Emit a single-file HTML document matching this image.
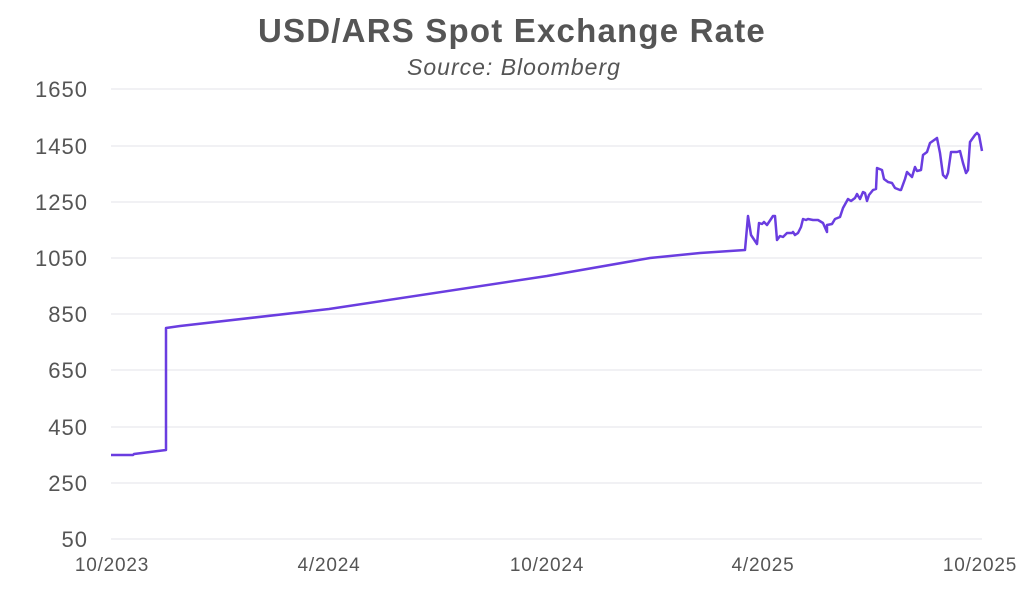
<!DOCTYPE html>
<html><head><meta charset="utf-8"><style>
body{margin:0;background:#fff;}
svg{display:block;font-family:"Liberation Sans",sans-serif;}
</style></head><body>
<svg width="1024" height="601" viewBox="0 0 1024 601">
<text x="512" y="42" text-anchor="middle" font-size="33" font-weight="bold" fill="#555" letter-spacing="1.2">USD/ARS Spot Exchange Rate</text>
<text x="514" y="75" text-anchor="middle" font-size="23" font-style="italic" fill="#555" letter-spacing="1">Source: Bloomberg</text>
<g stroke="#e3e3e8" stroke-width="1">
<line x1="111" x2="982" y1="89" y2="89"/><line x1="111" x2="982" y1="146" y2="146"/>
<line x1="111" x2="982" y1="202" y2="202"/><line x1="111" x2="982" y1="258" y2="258"/>
<line x1="111" x2="982" y1="314" y2="314"/><line x1="111" x2="982" y1="370" y2="370"/>
<line x1="111" x2="982" y1="427" y2="427"/><line x1="111" x2="982" y1="483" y2="483"/>
<line x1="111" x2="982" y1="539" y2="539"/>
</g>
<g font-size="22" fill="#555" text-anchor="end" letter-spacing="1">
<text x="88" y="97">1650</text><text x="88" y="154">1450</text><text x="88" y="210">1250</text>
<text x="88" y="266">1050</text><text x="88" y="322">850</text><text x="88" y="378">650</text>
<text x="88" y="435">450</text><text x="88" y="491">250</text><text x="88" y="547">50</text>
</g>
<g font-size="19" fill="#555" text-anchor="middle" letter-spacing="0.8">
<text x="112" y="571">10/2023</text><text x="329" y="571">4/2024</text><text x="547" y="571">10/2024</text>
<text x="763" y="571">4/2025</text><text x="980" y="571">10/2025</text>
</g>
<polyline fill="none" stroke="#6a3de0" stroke-width="2.5" stroke-linejoin="round" points="111,455 133,455 134,454 166,450 166,328 180,326 329,309 547,276 650,258 700,253 745,250 748,216 751,235 757,244 759,223 762,224 764,222 767,225 773,216 775,216 777,240 780,236 783,237 787,233 792,233 793,232 795,235 798,233 801,227 803,219 806,220 808,219 813,220 818,220 823,223 827,232 827,225 832,224 835,219 840,217 843,208 848,199 851,201 855,198 857,194 860,199 863,192 865,193 867,201 869,195 873,190 876,189 877,168 882,170 884,179 888,182 892,183 895,188 900,190 901,190 905,179 907,172 910,175 912,177 915,167 917,171 921,170 923,155 927,152 930,143 937,138 940,153 943,175 946,178 948,173 951,152 957,152 960,151 963,163 966,173 968,170 970,142 975,135 977,133 979,135 982,151"/>
</svg>
</body></html>
